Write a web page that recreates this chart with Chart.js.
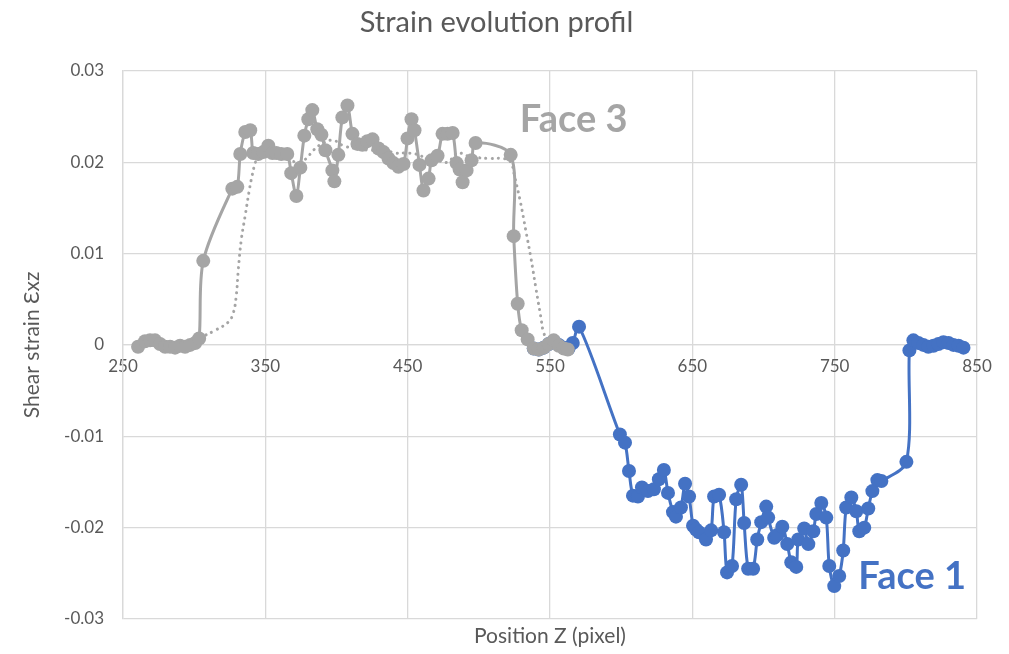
<!DOCTYPE html>
<html>
<head>
<meta charset="utf-8">
<script src="https://cdn.jsdelivr.net/npm/chart.js@4.4.1/dist/chart.umd.min.js"></script>
<style>
html,body{margin:0;padding:0;background:#fff;}
#wrap{width:1009px;height:654px;position:relative;}
</style>
</head>
<body>
<div id="wrap"><canvas id="c" width="1009" height="654"></canvas></div>
<script>
// ---- Data ----
const face3X = [260.6,265.5,269,272.5,276,279.6,283.1,286.6,290.1,293.6,297.2,300.7,303.5,306.4,326.8,330.3,332.4,335.9,339.4,341.5,345,348.6,352.1,354.9,357.7,361.2,365.4,368.2,371.8,374.6,377.4,380.2,383,386.5,389.4,392.2,397.1,398.5,401.3,404.1,407.7,411.2,414.7,418.2,421.7,425.3,429.5,433,436.5,440,443.5,447.1,449.9,452.7,454.8,458.3,461.1,464.7,466.8,471,474.5,478,481.6,484.4,486.5,488.6,491.4,494.9,497.7,522.4,524.5,527.3,530.1,534.3,538.6,542.1,545.6,549.1,552.6,556.2,559.7,562.5];
const face3Y = [-0.0002,0.0004,0.0005,0.0005,0.0001,-0.0002,-0.0002,-0.0003,-0.0001,-0.0002,0,0.0002,0.0007,0.0092,0.0171,0.0173,0.0209,0.0233,0.0235,0.021,0.0209,0.0211,0.0218,0.021,0.021,0.0209,0.0209,0.0188,0.0163,0.0194,0.0229,0.0247,0.0257,0.0236,0.023,0.0213,0.0191,0.0179,0.0208,0.0249,0.0262,0.0231,0.022,0.0219,0.0223,0.0225,0.0215,0.0211,0.0204,0.0199,0.0195,0.0198,0.0226,0.0247,0.0235,0.0197,0.0169,0.0182,0.0202,0.0207,0.0231,0.0231,0.0232,0.0199,0.0192,0.0178,0.0191,0.0202,0.0221,0.0208,0.0119,0.0045,0.0016,0.0006,-0.0004,-0.0005,-0.0003,0.0001,0.0005,-0.0001,-0.0004,-0.0005];

const face1X = [538.6,542.1,545.6,549.1,552.6,556.2,559.7,563,566,570.4,599.1,602.7,605.5,608.3,611.8,614.6,618.8,623,626.5,630,632.9,636.4,638.5,642,644.9,647.7,650.5,652.6,654.7,659.6,663.2,665.3,668.8,672.3,674.4,677.9,680.8,684.3,686.4,689.2,692.7,695.6,698.4,701.9,703.3,707.5,709.7,713.2,716.7,719.5,723,724.4,728.6,731.5,735,737.1,740.6,744.1,746.2,749.7,753.2,756,758.1,761.7,765.2,767.3,770.8,773.6,776.5,780,782.8,800.4,802.5,805.3,808.8,812.3,815.8,819.4,822.9,826.4,830,833.4,837,840.5];
const face1Y = [-0.0004,-0.0005,-0.0003,0.0001,0.0004,0,-0.0003,-0.0004,0.0002,0.002,-0.0098,-0.0107,-0.0138,-0.0165,-0.0166,-0.0156,-0.016,-0.0158,-0.0147,-0.0137,-0.0162,-0.0183,-0.0188,-0.0178,-0.0152,-0.0166,-0.0198,-0.0202,-0.0205,-0.0213,-0.0203,-0.0166,-0.0164,-0.0205,-0.0249,-0.0242,-0.0169,-0.0153,-0.0195,-0.0245,-0.0245,-0.0213,-0.0194,-0.0177,-0.0189,-0.0211,-0.0208,-0.0199,-0.0218,-0.0238,-0.0243,-0.0213,-0.0201,-0.0218,-0.0204,-0.0185,-0.0173,-0.0189,-0.0242,-0.0264,-0.0253,-0.0225,-0.0178,-0.0167,-0.0182,-0.0204,-0.02,-0.0179,-0.016,-0.0148,-0.0149,-0.0128,-0.0006,0.0005,0.0002,0,-0.0002,-0.0001,0.0001,0.0003,0.0002,0,-0.0001,-0.0003];

const trendX = [304.2,314.8,324,327.5,329.6,331,333.1,335.9,338.7,340.8,342.9,345,352.1,360.5,367.5,373.2,378.8,383.7,390.8,397.8,404.8,413.3,423.9,434.4,441.4,448.5,455.5,462.5,471,478,485,492,499,508.3,517.4,522.4,525.2,529.4,532.9,536.5,540,543.5,545.6,548.4];
const trendY = [0.0008,0.0016,0.0025,0.0035,0.0054,0.0082,0.0115,0.0142,0.0169,0.0186,0.0199,0.0206,0.021,0.0206,0.0202,0.02,0.0204,0.0213,0.0221,0.0224,0.0218,0.0215,0.0213,0.0213,0.021,0.021,0.0209,0.0205,0.0202,0.02,0.021,0.0207,0.0205,0.0204,0.0204,0.02,0.0184,0.0155,0.0126,0.0096,0.0063,0.0031,0.0013,0.0006];

const xTicks = [250,350,450,550,650,750,850];
const yTicks = [-0.03,-0.02,-0.01,0,0.01,0.02,0.03];
const seriesNames = ['Face 3','Face 1','Face 3 trend'];
const chartTitle = 'Strain evolution profil';
const xTitle = 'Position Z (pixel)';
const yTitle = 'Shear strain \u0190xz';

const zip = (xs, ys) => xs.map((v, i) => ({x: v, y: ys[i]}));
const GRAY = '#a5a5a5', BLUE = '#4472c4', TXT = '#595959', GRID = '#d9d9d9';
const FONT = 'Lato';

const faceLabels = {
  id: 'faceLabels',
  afterDatasetsDraw(chart) {
    const {ctx, scales: {x, y}} = chart;
    ctx.save();
    ctx.font = 'bold 38px ' + FONT;
    ctx.textBaseline = 'middle';
    ctx.textAlign = 'left';
    ctx.fillStyle = GRAY;
    ctx.fillText(seriesNames[0], x.getPixelForValue(528.7), y.getPixelForValue(0.0246));
    ctx.fillStyle = BLUE;
    ctx.fillText(seriesNames[1], x.getPixelForValue(766.6), y.getPixelForValue(-0.0254));
    ctx.restore();
  }
};

new Chart(document.getElementById('c'), {
  type: 'line',
  data: {
    datasets: [
      {label: seriesNames[0], data: zip(face3X, face3Y), borderColor: GRAY, backgroundColor: GRAY,
       borderWidth: 3, pointRadius: 7, pointHoverRadius: 7, pointBorderWidth: 0, tension: 0.3, order: 0},
      {label: seriesNames[2], data: zip(trendX, trendY), borderColor: GRAY, borderWidth: 3,
       borderDash: [0.1, 6.2], borderCapStyle: 'round', pointRadius: 0, tension: 0.4, order: 1},
      {label: seriesNames[1], data: zip(face1X, face1Y), borderColor: BLUE, backgroundColor: BLUE,
       borderWidth: 3, pointRadius: 7, pointHoverRadius: 7, pointBorderWidth: 0, tension: 0.3, order: 2}
    ]
  },
  options: {
    responsive: false,
    animation: false,
    events: [],
    layout: {padding: {left: 16, right: 32, top: 0, bottom: 0}},
    plugins: {
      legend: {display: false},
      tooltip: {enabled: false},
      title: {display: true, text: chartTitle, color: TXT,
              font: {family: FONT, size: 29, weight: 'normal', lineHeight: 1.2}, padding: {top: 5, bottom: 31}}
    },
    scales: {
      x: {
        type: 'linear', min: 250, max: 850, position: {y: 0},
        afterBuildTicks: s => { s.ticks = xTicks.map(v => ({value: v})); },
        grid: {color: GRID, lineWidth: 1.3, drawTicks: false},
        border: {color: GRID, width: 1.3},
        ticks: {color: TXT, font: {family: FONT, size: 17}, padding: 11, maxRotation: 0}
      },
      x2: {
        type: 'linear', min: 250, max: 850, position: 'bottom', axis: 'x',
        grid: {display: false, drawTicks: false},
        border: {display: false},
        ticks: {display: false},
        title: {display: true, text: xTitle, color: TXT, font: {family: FONT, size: 21, lineHeight: 1.2}, padding: {top: 2, bottom: 5}},
        afterFit: s => { s.height = 35; }
      },
      y: {
        type: 'linear', min: -0.03, max: 0.03,
        afterBuildTicks: s => { s.ticks = yTicks.map(v => ({value: v})); },
        grid: {color: GRID, lineWidth: 1.3, drawTicks: false},
        border: {color: GRID, width: 1.3},
        ticks: {color: TXT, font: {family: FONT, size: 17}, padding: 19,
                callback: v => String(Math.round(v * 100) / 100)},
        title: {display: true, text: yTitle, color: TXT, font: {family: FONT, size: 21, lineHeight: 1.2}, padding: {top: 4, bottom: 0}},
        afterFit: s => { s.width = 107; }
      }
    }
  },
  plugins: [faceLabels]
});
</script>
</body>
</html>
